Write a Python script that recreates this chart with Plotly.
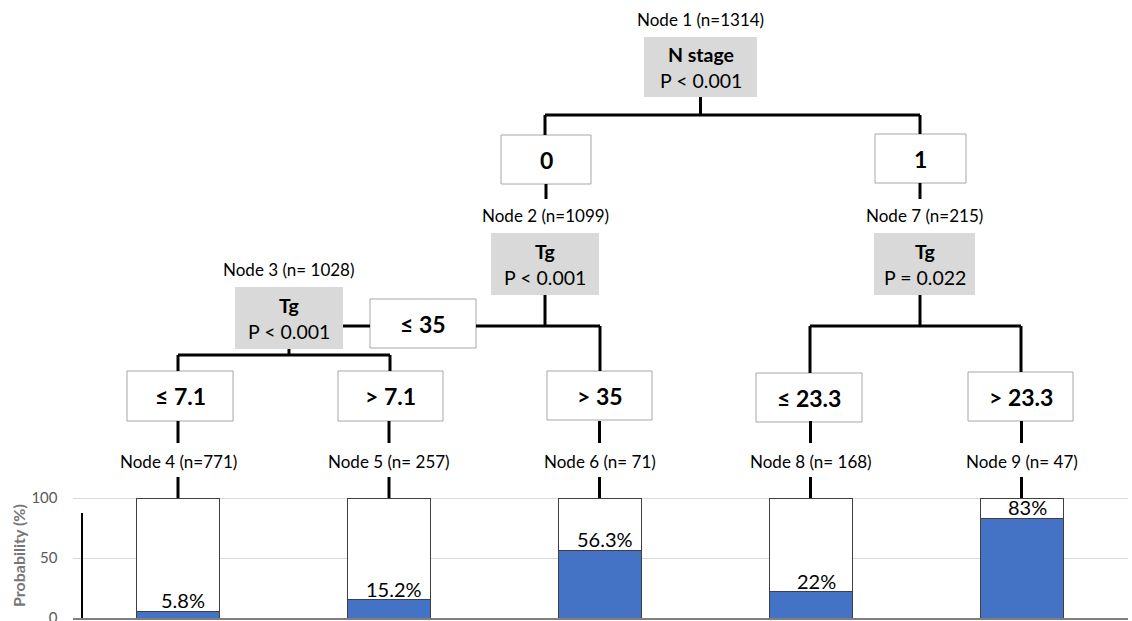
import plotly.graph_objects as go

# ---------------- data ----------------
leaf_nodes = ["Node 4 (n=771)", "Node 5 (n= 257)", "Node 6 (n= 71)", "Node 8 (n= 168)", "Node 9 (n= 47)"]
probability = [5.8, 15.2, 56.3, 22, 83]
prob_labels = ["5.8%", "15.2%", "56.3%", "22%", "83%"]
total = [100, 100, 100, 100, 100]

split_titles = ["Node 1 (n=1314)", "Node 2 (n=1099)", "Node 3 (n= 1028)", "Node 7 (n=215)"]
split_vars = ["N stage", "Tg", "Tg", "Tg"]
split_p = ["P < 0.001", "P < 0.001", "P < 0.001", "P = 0.022"]
branch_labels = ["0", "1", "≤ 35", "> 35", "≤ 7.1", "> 7.1", "≤ 23.3", "> 23.3"]
y_ticks = [0, 50, 100]
y_title = "Probability (%)"

# ---------------- layout geometry (pixels) ----------------
W, H = 1132, 621
FONT = "Lato"
split_boxes = [(644, 757, 37, 97, 19), (491, 599, 233, 295, 215),
               (235, 343, 287, 349, 269), (874, 975, 233, 295, 215)]
branch_boxes = [(501, 591, 135, 184), (875, 966, 134, 183), (370, 476, 299, 348),
                (547, 652, 371, 420), (127, 233, 371, 421), (338, 443, 371, 421),
                (756, 862, 373, 422), (968, 1073, 372, 421)]
leaf_x = [178, 389, 599.5, 810.5, 1021.5]
leaf_title_y = 461
connectors = [
    (700.5, 97, 700.5, 115), (545, 115, 920, 115), (545, 115, 545, 135), (920, 115, 920, 134),
    (546, 184, 546, 199), (920, 183, 920, 199),
    (545, 295, 545, 326), (476, 326, 600, 326), (600, 326, 600, 371), (343, 326, 370, 326),
    (289, 349, 289, 355), (178, 355, 390, 355), (178, 355, 178, 371), (390, 355, 390, 371),
    (920, 295, 920, 326), (810, 326, 1021, 326), (810, 326, 810, 373), (1021, 326, 1021, 372),
]
for lx in leaf_x:
    connectors.append((lx, 421, lx, 443))
    connectors.append((lx, 477, lx, 498))

# bar subplot placement
bar_left, bar_right = 72.5, 1127.5
y0_px, px_per_unit = 618, 1.2
y_top_val = 102
y_top_px = y0_px - px_per_unit * y_top_val

fig = go.Figure()

remainder = [t - p for t, p in zip(total, probability)]
fig.add_trace(go.Bar(x=leaf_nodes, y=probability, xaxis="x2", yaxis="y2",
                     marker=dict(color="#4472C4", line=dict(color="#404040", width=1)),
                     hoverinfo="skip", showlegend=False))
fig.add_trace(go.Bar(x=leaf_nodes, y=remainder, xaxis="x2", yaxis="y2",
                     marker=dict(color="white", line=dict(color="#404040", width=1)),
                     hoverinfo="skip", showlegend=False))

shapes = []
annotations = []

for (x0, x1, y0, y1) in branch_boxes:
    shapes.append(dict(type="rect", xref="x", yref="y", x0=x0, x1=x1, y0=y0, y1=y1,
                       fillcolor="white", line=dict(color="#a6a6a6", width=1), layer="above"))
for (x0, x1, y0, y1, ty) in split_boxes:
    shapes.append(dict(type="rect", xref="x", yref="y", x0=x0, x1=x1, y0=y0, y1=y1,
                       fillcolor="#d9d9d9", line=dict(width=0), layer="above"))
for (ax, ay, bx, by) in connectors:
    shapes.append(dict(type="line", xref="x", yref="y", x0=ax, y0=ay, x1=bx, y1=by,
                       line=dict(color="black", width=3), layer="above"))
# partial left axis line
shapes.append(dict(type="line", xref="x", yref="y", x0=82, y0=513, x1=82, y1=618,
                   line=dict(color="black", width=2), layer="above"))

def esc(s):
    return s.replace("<", "&lt;").replace(">", "&gt;")

for (x0, x1, y0, y1, ty), title, var, p in zip(split_boxes, split_titles, split_vars, split_p):
    cx = (x0 + x1) / 2
    cy = (y0 + y1) / 2
    annotations.append(dict(x=cx, y=ty, xref="x", yref="y", text=esc(title), showarrow=False,
                            font=dict(family=FONT, size=17, color="black")))
    annotations.append(dict(x=cx, y=cy - 13, xref="x", yref="y", text="<b>" + esc(var) + "</b>",
                            showarrow=False, font=dict(family=FONT, size=19.5, color="black")))
    annotations.append(dict(x=cx, y=cy + 13, xref="x", yref="y", text=esc(p), showarrow=False,
                            font=dict(family=FONT, size=19.5, color="black")))

for (x0, x1, y0, y1), lab in zip(branch_boxes, branch_labels):
    annotations.append(dict(x=(x0 + x1) / 2, y=(y0 + y1) / 2, xref="x", yref="y",
                            text="<b>" + esc(lab) + "</b>", showarrow=False,
                            font=dict(family=FONT, size=23, color="black")))

for lx, lab in zip(leaf_x, leaf_nodes):
    annotations.append(dict(x=lx, y=leaf_title_y, xref="x", yref="y", text=esc(lab),
                            showarrow=False, font=dict(family=FONT, size=17, color="black")))

for cat, v, lab in zip(leaf_nodes, probability, prob_labels):
    annotations.append(dict(x=cat, y=v, xref="x2", yref="y2", text=lab, showarrow=False,
                            yanchor="bottom", xshift=5, yshift=-3,
                            font=dict(family=FONT, size=20, color="black")))

annotations.append(dict(x=18, y=556, xref="x", yref="y", text="<b>" + y_title + "</b>",
                        textangle=-90, showarrow=False,
                        font=dict(family=FONT, size=16, color="#767676")))

fig.update_layout(
    width=W, height=H, margin=dict(l=0, r=0, t=0, b=0, pad=0, autoexpand=False),
    paper_bgcolor="white", plot_bgcolor="white",
    barmode="stack", bargap=0.602,
    shapes=shapes, annotations=annotations,
    xaxis=dict(range=[0, W], domain=[0, 1], visible=False, fixedrange=True, automargin=False),
    yaxis=dict(range=[H, 0], domain=[0, 1], visible=False, fixedrange=True, automargin=False),
    xaxis2=dict(domain=[bar_left / W, bar_right / W], anchor="y2", type="category",
                showticklabels=False, ticks="", showgrid=False, automargin=False,
                showline=True, linecolor="#7f7f7f", linewidth=1.5),
    yaxis2=dict(domain=[(H - y0_px) / H, (H - y_top_px) / H], anchor="x2", range=[0, y_top_val],
                tickvals=y_ticks, showgrid=True, gridcolor="#d9d9d9", gridwidth=1,
                zeroline=False, showline=False, ticks="", ticklabelstandoff=14, automargin=False,
                ticklabeloverflow="allow",
                tickfont=dict(family=FONT, size=15, color="#595959")),
    showlegend=False,
)

fig.write_html("out.html", config={"displayModeBar": False},
               post_script="document.body.style.margin='0';document.body.style.overflow='hidden';")
